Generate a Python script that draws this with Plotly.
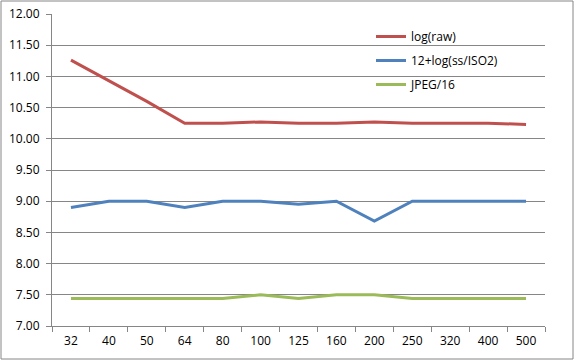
import plotly.graph_objects as go

categories = ["32", "40", "50", "64", "80", "100", "125", "160", "200", "250", "320", "400", "500"]
log_raw = [11.26, 10.93, 10.60, 10.25, 10.25, 10.27, 10.25, 10.25, 10.27, 10.25, 10.25, 10.25, 10.23]
log_ss_iso = [8.90, 9.00, 9.00, 8.90, 9.00, 9.00, 8.95, 9.00, 8.68, 9.00, 9.00, 9.00, 9.00]
jpeg16 = [7.44, 7.44, 7.44, 7.44, 7.44, 7.50, 7.44, 7.50, 7.50, 7.44, 7.44, 7.44, 7.44]
y_ticks = [7.0, 7.5, 8.0, 8.5, 9.0, 9.5, 10.0, 10.5, 11.0, 11.5, 12.0]

series = [
    ("log(raw)", log_raw, "#C0504D"),
    ("12+log(ss/ISO2)", log_ss_iso, "#4F81BD"),
    ("JPEG/16", jpeg16, "#9BBB59"),
]

fig = go.Figure()
for i, (name, vals, col) in enumerate(series):
    fig.add_trace(go.Scatter(x=categories, y=vals, name=name, mode="lines",
                             line=dict(color=col, width=3), legendgroup=str(i)))

W, H = 574, 360
ml, mr, mt, mb = 52, 29, 14, 34
pw, ph = W - ml - mr, H - mt - mb

fig.update_layout(
    width=W, height=H,
    margin=dict(l=ml, r=mr, t=mt, b=mb),
    paper_bgcolor="white", plot_bgcolor="white",
    font=dict(family="Open Sans, Liberation Sans, sans-serif", size=12, color="#000000"),
    showlegend=True,
    legend=dict(x=(371 - ml) / pw, y=1 - (22 - mt) / ph, xanchor="left", yanchor="top",
                bgcolor="rgba(0,0,0,0)", tracegroupgap=5, itemwidth=30,
                font=dict(size=12)),
    xaxis=dict(type="category", showgrid=False, showline=True, linecolor="#868686",
               ticks="outside", tickson="boundaries", ticklen=5, tickcolor="#868686",
               range=[-0.5, 12.5], fixedrange=True, automargin=False,
               ticklabelstandoff=4),
    yaxis=dict(range=[7, 12], tickvals=y_ticks, tickformat=".2f", showgrid=True,
               gridcolor="#868686", gridwidth=1, showline=True, linecolor="#868686",
               ticks="outside", ticklen=5, tickcolor="#868686", zeroline=False,
               automargin=False, ticklabelstandoff=4),
)
fig.add_shape(type="rect", xref="paper", yref="paper",
              x0=(-ml + 1) / pw, x1=(pw + mr - 1) / pw,
              y0=(-mb + 1) / ph, y1=(ph + mt - 1) / ph,
              line=dict(color="#868686", width=1), layer="below")
fig.write_html("out.html", config={"displayModeBar": False},
               post_script="document.body.style.margin='0';document.body.style.overflow='hidden';")
